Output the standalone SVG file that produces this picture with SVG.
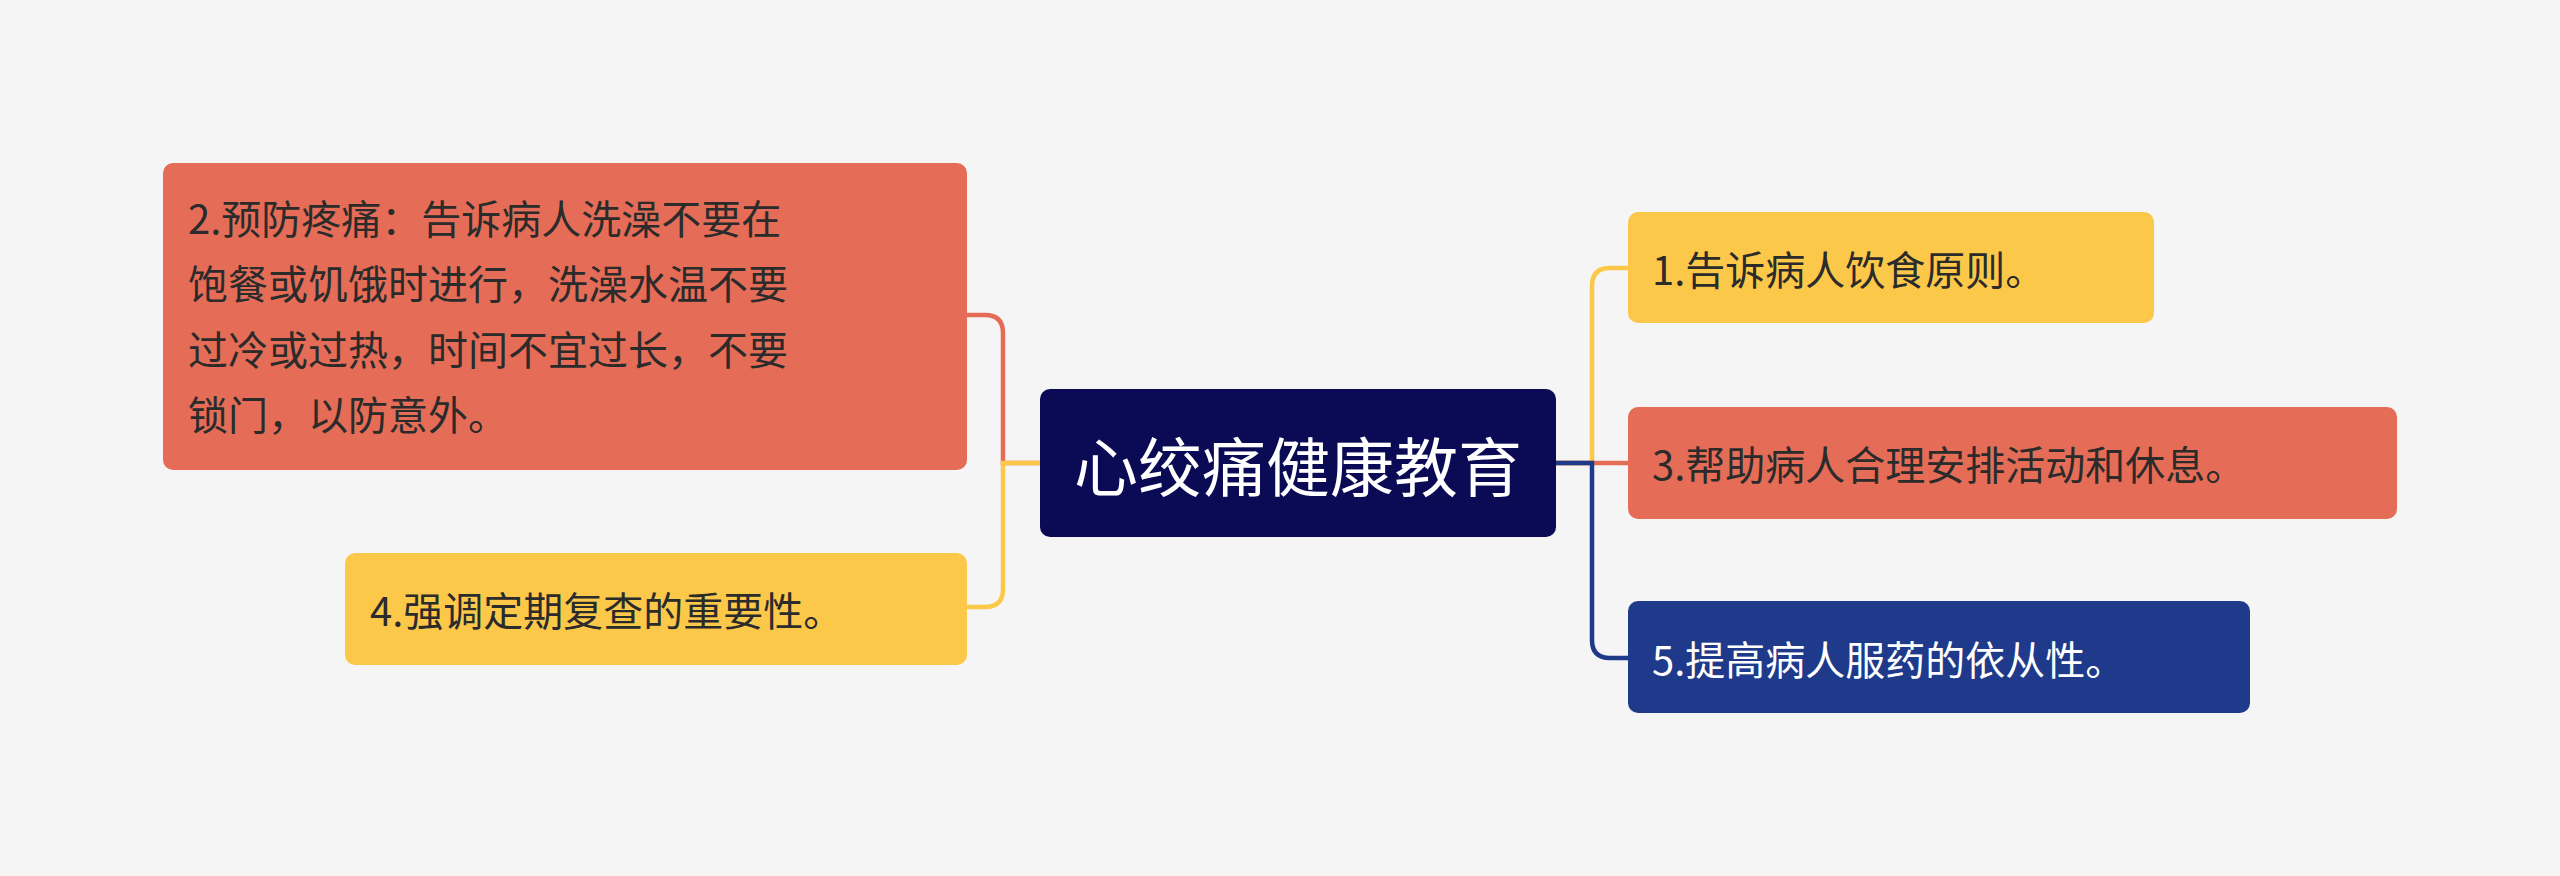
<svg xmlns="http://www.w3.org/2000/svg" width="2560" height="876" viewBox="0 0 2560 876">
<style>
text{font-family:"Noto Sans CJK SC","Noto Sans",sans-serif;font-size:40px;fill:#2b2b2b}
.c{fill:none;stroke-width:4.5}
</style>
<rect width="2560" height="876" fill="#f5f5f5"/>
<g id="connectors">
<path class="c" stroke="#e56d57" d="M1040,463 H1003 V333 Q1003,315 985,315 H967"/>
<path class="c" stroke="#fcc84a" d="M1040,463 H1003 V589 Q1003,607 985,607 H967"/>
<path class="c" stroke="#fcc84a" d="M1556,463 H1592 V286 Q1592,268 1610,268 H1628"/>
<path class="c" stroke="#e56d57" d="M1556,463 H1628"/>
<path class="c" stroke="#1f3a8a" d="M1556,463 H1592 V640 Q1592,658 1610,658 H1628"/>
</g>
<g id="center"><rect x="1040" y="389" width="516" height="148" rx="10" fill="#0b0b55"/>
<text x="1298" y="463" text-anchor="middle" dominant-baseline="central" style="font-size:64px;fill:#fff">心绞痛健康教育</text></g>
<g id="n1"><rect x="1628" y="212" width="526" height="111" rx="10" fill="#fcc84a"/>
<text x="1652" y="268" dominant-baseline="central">1.告诉病人饮食原则。</text></g>
<g id="n3"><rect x="1628" y="407" width="769" height="112" rx="10" fill="#e56d57"/>
<text x="1652" y="463" dominant-baseline="central">3.帮助病人合理安排活动和休息。</text></g>
<g id="n5"><rect x="1628" y="601" width="622" height="112" rx="10" fill="#1f3a8a"/>
<text x="1652" y="658" dominant-baseline="central" style="fill:#fff">5.提高病人服药的依从性。</text></g>
<g id="n2"><rect x="163" y="163" width="804" height="307" rx="10" fill="#e56d57"/>
<text dominant-baseline="central"><tspan x="188" y="217">2.预防疼痛：告诉病人洗澡不要在</tspan><tspan x="188" y="282">饱餐或饥饿时进行，洗澡水温不要</tspan><tspan x="188" y="348">过冷或过热，时间不宜过长，不要</tspan><tspan x="188" y="413">锁门，以防意外。</tspan></text></g>
<g id="n4"><rect x="345" y="553" width="622" height="112" rx="10" fill="#fcc84a"/>
<text x="370" y="609" dominant-baseline="central">4.强调定期复查的重要性。</text></g>
</svg>
